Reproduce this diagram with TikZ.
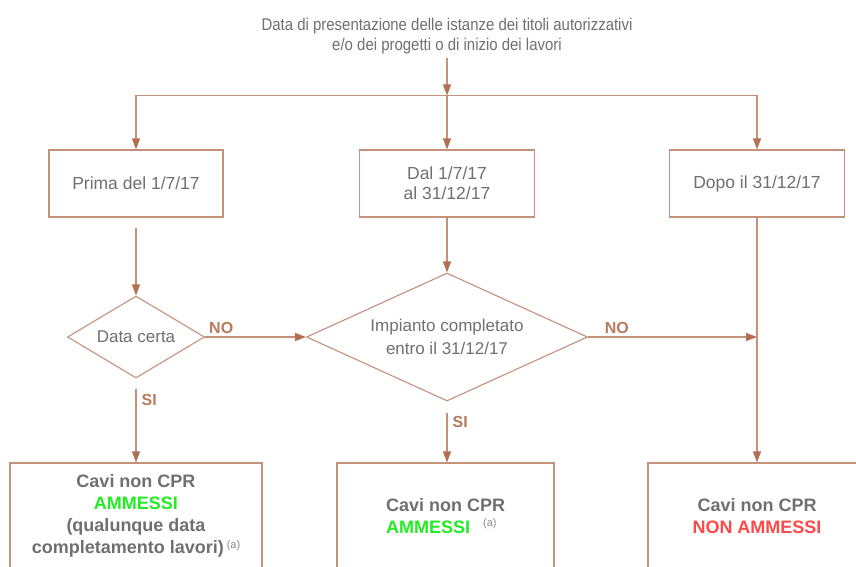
\documentclass[tikz,border=0pt]{standalone}
\usepackage{fontspec}
\setmainfont{Liberation Sans}
\newfontfamily\narrowfont[FakeStretch=0.88]{Liberation Sans}
\usetikzlibrary{arrows.meta,shapes.geometric}
\definecolor{linec}{RGB}{196,146,122}
\definecolor{tipc}{RGB}{178,112,82}
\definecolor{labc}{RGB}{184,122,92}
\definecolor{txtc}{RGB}{112,112,112}
\definecolor{supc}{RGB}{140,140,140}
\definecolor{okc}{RGB}{34,236,34}
\definecolor{noc}{RGB}{255,72,72}
\tikzset{
  boxnode/.style={draw=linec, line width=1.2pt, inner sep=0pt, text=txtc, align=center,
    font=\fontsize{17.5}{20}\selectfont},
  dianode/.style={draw=linec, line width=1.1pt, shape=diamond, inner sep=0pt, text=txtc, align=center,
    font=\fontsize{17}{23}\selectfont},
  arr/.style={draw=linec, line width=1.2pt, -{Triangle[length=11pt,width=8pt,color=tipc]}},
  lbl/.style={text=labc, inner sep=0pt, font=\bfseries\fontsize{16}{16}\selectfont},
  restxt/.style={inner sep=0pt, text=txtc, font=\bfseries\fontsize{18}{22}\selectfont},
}
\newcommand{\supa}{\textnormal{\fontsize{11}{11}\selectfont\color{supc}(a)}}
\begin{document}
\begin{tikzpicture}[x=1pt,y=-1pt]
\useasboundingbox (0,0) rectangle (856,567);
\clip (0,0) rectangle (856,567);
\fill[white] (0,0) rectangle (856,567);

% top text
\node[inner sep=2pt, text=txtc, align=center, font=\narrowfont\fontsize{17}{20.5}\selectfont] (top) at (447,36)
  {Data di presentazione delle istanze dei titoli autorizzativi\\e/o dei progetti o di inizio dei lavori};
\coordinate (j) at (447,95.5);

% first row boxes
\node[boxnode, minimum width=174pt, minimum height=67pt] (b1) at (136,183.5) {Prima del 1/7/17};
\node[boxnode, minimum width=175pt, minimum height=67pt] (b2) at (447,183.5) {Dal 1/7/17\\al 31/12/17};
\node[boxnode, minimum width=175pt, minimum height=67pt] (b3) at (757,183.5) {Dopo il 31/12/17};

% diamonds
\node[dianode, shape aspect=2.2, minimum width=137pt, minimum height=82pt] (d1) at (136,337) {Data certa};
\node[dianode, shape aspect=2.6, minimum width=281pt, minimum height=128pt] (d2) at (447,337) {Impianto completato\\entro il 31/12/17};
\coordinate (m) at (757,337);

% result boxes
\node[draw=linec, line width=1.2pt, minimum width=252pt, minimum height=180pt, inner sep=0pt] (b4) at (136,553) {};
\node[draw=linec, line width=1.2pt, minimum width=217pt, minimum height=180pt, inner sep=0pt] (b5) at (445.5,553) {};
\node[draw=linec, line width=1.2pt, minimum width=218pt, minimum height=180pt, inner sep=0pt] (b6) at (757,553) {};

\node[restxt, align=center] (t4) at (136,516)
  {Cavi non CPR\\\textcolor{okc}{AMMESSI}\\(qualunque data\\completamento lavori)\,\raisebox{5pt}{\supa}};
\node[restxt, align=left, anchor=west] (t5) at (386,516)
  {Cavi non CPR\\\textcolor{okc}{AMMESSI}\hspace{13pt}\raisebox{7pt}{\supa}};
\node[restxt, align=center] (t6) at (757,516)
  {Cavi non CPR\\\textcolor{noc}{NON AMMESSI}};

% connectors
\draw[arr, shorten <=2pt] (top.south) -- (j);
\draw[arr] (j) -| (b1.north);
\draw[arr] (j) -| (b3.north);
\draw[arr] (j) -- (b2.north);
\draw[arr, shorten <=10pt] (b1.south) -- (d1.north);
\draw[arr] (b2.south) -- (d2.north);
\draw[arr] (b3.south) -- (b6.north);
\draw[arr] (d1.east) -- node[lbl, above, pos=0.16, yshift=3pt] (no1) {NO} (d2.west);
\draw[arr] (d2.east) -- node[lbl, above, pos=0.17, yshift=3pt] (no2) {NO} (m);
\draw[arr, shorten <=10pt] (d1.south) -- node[lbl, right, pos=0.25, xshift=5pt] (si1) {SI} (d1.south |- b4.north);
\draw[arr, shorten <=11pt] (d2.south) -- node[lbl, right, pos=0.34, xshift=5pt] (si2) {SI} (d2.south |- b5.north);
\end{tikzpicture}
\end{document}
